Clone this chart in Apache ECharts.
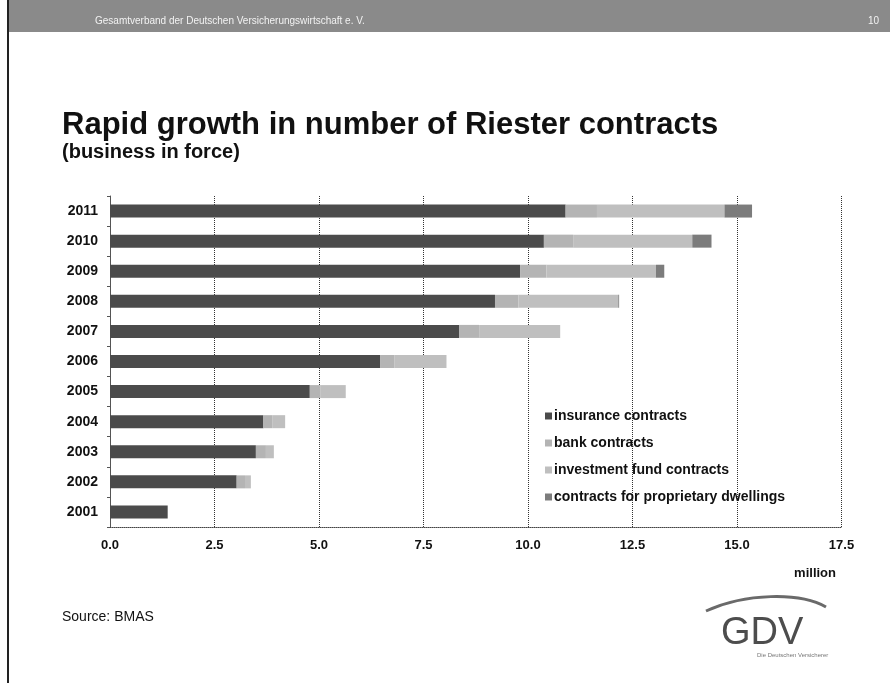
<!DOCTYPE html>
<html>
<head>
<meta charset="utf-8">
<script src="https://cdn.jsdelivr.net/npm/echarts@6/dist/echarts.min.js"></script>
<style>
  html, body { margin: 0; padding: 0; background: #fff; }
  #chart { width: 890px; height: 683px; }
</style>
</head>
<body>
<div id="chart"></div>
<script>
// Riester contracts in force, million, by contract type
const years = ['2001', '2002', '2003', '2004', '2005', '2006', '2007', '2008', '2009', '2010', '2011'];
const insurance = [1.38, 3.03, 3.49, 3.67, 4.78, 6.46, 8.35, 9.21, 9.81, 10.38, 10.90];
const bank      = [0.00, 0.20, 0.24, 0.21, 0.26, 0.35, 0.48, 0.56, 0.63, 0.70, 0.75];
const fund      = [0.00, 0.14, 0.19, 0.31, 0.60, 1.24, 1.94, 2.39, 2.62, 2.85, 3.05];
const dwellings = [0.00, 0.00, 0.00, 0.00, 0.00, 0.00, 0.00, 0.02, 0.20, 0.46, 0.66];
const xTicks = [0, 2.5, 5, 7.5, 10, 12.5, 15, 17.5];

const seriesDefs = [
  { name: 'insurance contracts', data: insurance, color: '#4b4b4b' },
  { name: 'bank contracts', data: bank, color: '#b4b4b4' },
  { name: 'investment fund contracts', data: fund, color: '#bfbfbf' },
  { name: 'contracts for proprietary dwellings', data: dwellings, color: '#7c7c7c' }
];

const FONT = 'Liberation Sans, Arial, sans-serif';
const chart = echarts.init(document.getElementById('chart'), null, { renderer: 'canvas' });

chart.setOption({
  backgroundColor: '#ffffff',
  animation: false,
  title: [
    {
      text: 'Rapid growth in number of Riester contracts',
      left: 57, top: 105, padding: 5,
      textStyle: { fontFamily: FONT, fontSize: 31, fontWeight: 'bold', color: '#111' }
    },
    {
      text: '(business in force)',
      left: 57, top: 137, padding: 5,
      textStyle: { fontFamily: FONT, fontSize: 20, fontWeight: 'bold', color: '#111' }
    }
  ],
  legend: {
    orient: 'vertical',
    left: 540, top: 404,
    itemWidth: 7, itemHeight: 7, itemGap: 13,
    icon: 'rect',
    textStyle: { fontFamily: FONT, fontSize: 14, fontWeight: 'bold', color: '#111', padding: [0, 0, 0, -3] },
    data: seriesDefs.map(s => s.name)
  },
  grid: { left: 110, right: 48.5, top: 196, bottom: 156, containLabel: false },
  xAxis: {
    type: 'value',
    min: 0, max: 17.5, interval: 2.5,
    axisLine: { show: true, lineStyle: { color: '#444', type: 'dotted', width: 1 } },
    axisTick: { show: false },
    axisLabel: {
      margin: 12,
      fontFamily: FONT, fontSize: 13, fontWeight: 'bold', color: '#111',
      formatter: v => xTicks.includes(v) ? v.toFixed(1) : ''
    },
    splitLine: { show: true, lineStyle: { color: '#333', type: 'dotted', width: 1 } }
  },
  yAxis: {
    type: 'category',
    data: years,
    axisLine: { show: true, lineStyle: { color: '#555', width: 1 } },
    axisTick: { show: true, length: 3, lineStyle: { color: '#555' } },
    axisLabel: { margin: 12, fontFamily: FONT, fontSize: 14, fontWeight: 'bold', color: '#111' },
    splitLine: { show: false }
  },
  series: seriesDefs.map(s => ({
    type: 'bar',
    name: s.name,
    stack: 'total',
    data: s.data,
    barWidth: 13,
    itemStyle: { color: s.color },
    emphasis: { disabled: true }
  })),
  graphic: [
    // page frame line on the left
    { type: 'rect', shape: { x: 7, y: 0, width: 2, height: 683 }, style: { fill: '#222' }, silent: true },
    // header band
    { type: 'rect', shape: { x: 9, y: 0, width: 881, height: 32 }, style: { fill: '#8a8a8a' }, silent: true },
    {
      type: 'text', left: 95, top: 16, silent: true,
      style: { text: 'Gesamtverband der Deutschen Versicherungswirtschaft e. V.', fill: '#f2f2f2',
               font: '10px ' + FONT }
    },
    {
      type: 'text', left: 868, top: 16, silent: true,
      style: { text: '10', fill: '#f2f2f2', font: '10px ' + FONT }
    },
    // axis unit
    {
      type: 'text', right: 54, top: 567, silent: true,
      style: { text: 'million', fill: '#111', font: 'bold 13px ' + FONT }
    },
    // source note
    {
      type: 'text', left: 62, top: 610, silent: true,
      style: { text: 'Source: BMAS', fill: '#111', font: '14px ' + FONT }
    },
    // GDV logo: swoosh, letters, tagline
    {
      type: 'bezierCurve', silent: true,
      shape: { x1: 706, y1: 611, x2: 826, y2: 607, cpx1: 745, cpy1: 593, cpx2: 800, cpy2: 592 },
      style: { stroke: '#6a6a6a', lineWidth: 3, fill: null }
    },
    {
      type: 'text', left: 721, top: 615, silent: true,
      style: { text: 'GDV', fill: '#4d4d4d', font: '38px ' + FONT }
    },
    {
      type: 'text', left: 757, top: 652, silent: true,
      style: { text: 'Die Deutschen Versicherer', fill: '#777', font: '6px ' + FONT }
    }
  ]
});
</script>
</body>
</html>
